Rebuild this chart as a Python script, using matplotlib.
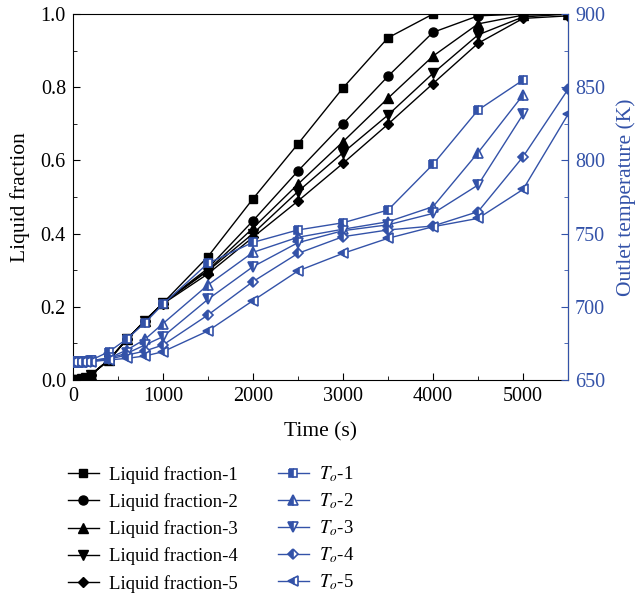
import matplotlib
matplotlib.use("Agg")
import matplotlib.pyplot as plt
from matplotlib.ticker import MultipleLocator, FormatStrFormatter

plt.rcParams['font.family'] = ['Liberation Serif', 'DejaVu Serif']
plt.rcParams['mathtext.fontset'] = 'stix'

# time points (s)
t_lf = [0, 50, 100, 150, 200, 400, 600, 800, 1000, 1500, 2000, 2500, 3000, 3500, 4000, 4500, 5000, 5500]
lf1 = [0, 0.0, 0.002, 0.005, 0.014, 0.055, 0.111, 0.162, 0.21, 0.337, 0.495, 0.645, 0.798, 0.935, 1.0, 1.0, 1.0, 1.0]
lf2 = [0, 0.0, 0.002, 0.005, 0.014, 0.055, 0.111, 0.162, 0.21, 0.305, 0.435, 0.571, 0.70, 0.83, 0.95, 0.995, 1.0, 1.0]
lf3 = [0, 0.0, 0.002, 0.005, 0.014, 0.055, 0.111, 0.162, 0.21, 0.30, 0.415, 0.535, 0.651, 0.77, 0.885, 0.973, 0.997, 1.0]
lf4 = [0, 0.0, 0.002, 0.005, 0.014, 0.055, 0.111, 0.162, 0.21, 0.298, 0.40, 0.515, 0.621, 0.724, 0.838, 0.943, 0.992, 1.0]
lf5 = [0, 0.0, 0.002, 0.005, 0.014, 0.055, 0.111, 0.162, 0.208, 0.29, 0.39, 0.489, 0.592, 0.699, 0.81, 0.92, 0.988, 0.995]

t_T13 = [0, 50, 100, 150, 200, 400, 600, 800, 1000, 1500, 2000, 2500, 3000, 3500, 4000, 4500, 5000]
t_T45 = t_T13 + [5500]
T1 = [662.5, 662.5, 662.5, 662.8, 663.5, 669.3, 678.0, 689.0, 701.7, 729.7, 744.0, 752.5, 757.4, 766.1, 797.3, 834.4, 854.9]
T2 = [662.5, 662.5, 662.5, 662.8, 663.2, 665.0, 670.5, 677.8, 688.5, 714.9, 737.2, 747.5, 753.0, 758.1, 768.4, 805.3, 844.7]
T3 = [662.5, 662.5, 662.5, 662.6, 663.0, 665.0, 668.2, 673.9, 679.6, 705.1, 727.4, 743.8, 752.0, 756.0, 763.8, 783.2, 831.5]
T4 = [662.5, 662.5, 662.5, 662.5, 662.8, 664.3, 667.0, 669.8, 673.9, 694.4, 717.2, 736.5, 747.9, 752.5, 755.2, 765.0, 802.5, 848.6]
T5 = [662.5, 662.5, 662.5, 662.5, 662.6, 663.7, 664.8, 666.4, 669.3, 683.5, 704.2, 724.5, 736.5, 746.8, 754.7, 760.4, 780.2, 831.5]

lf_labels = ['Liquid fraction-1', 'Liquid fraction-2', 'Liquid fraction-3', 'Liquid fraction-4', 'Liquid fraction-5']
T_labels = ['$T_o$-1', '$T_o$-2', '$T_o$-3', '$T_o$-4', '$T_o$-5']

blue = '#3352A8'
tick_fs = 14.5
lab_fs = 15.5
leg_fs = 13.5

fig = plt.figure(figsize=(6.39, 5.99), dpi=100)
ax = fig.add_axes([0.114, 0.3656, 0.775, 0.611])
ax2 = ax.twinx()

lf_markers = ['s', 'o', '^', 'v', 'D']
lf_sizes = [6, 6.5, 7, 7, 5.5]
handles_lf = []
for y, m, ms, lab in zip([lf1, lf2, lf3, lf4, lf5], lf_markers, lf_sizes, lf_labels):
    h, = ax.plot(t_lf, y, color='black', marker=m, markersize=ms, linewidth=1, label=lab)
    handles_lf.append(h)

T_markers = ['s', '^', 'v', 'D', '<']
T_sizes = [6, 7, 7, 5.5, 7]
handles_T = []
for tt, y, m, ms, lab in zip([t_T13, t_T13, t_T13, t_T45, t_T45], [T1, T2, T3, T4, T5], T_markers, T_sizes, T_labels):
    h, = ax2.plot(tt, y, color=blue, marker=m, markersize=ms, linewidth=1,
                  fillstyle='left', markerfacecolor=blue, markerfacecoloralt='white',
                  markeredgecolor=blue, markeredgewidth=1.2, label=lab)
    handles_T.append(h)

ax.set_xlim(0, 5500)
ax.set_ylim(0, 1.0)
ax2.set_ylim(650, 900)

ax.xaxis.set_major_locator(MultipleLocator(1000))
ax.xaxis.set_minor_locator(MultipleLocator(500))
ax.yaxis.set_major_locator(MultipleLocator(0.2))
ax.yaxis.set_minor_locator(MultipleLocator(0.1))
ax2.yaxis.set_major_locator(MultipleLocator(50))
ax2.yaxis.set_minor_locator(MultipleLocator(25))

ax.tick_params(axis='both', which='both', direction='in', labelsize=tick_fs, top=False, right=False, pad=5)
ax.tick_params(which='major', length=5)
ax.tick_params(which='minor', length=3)
ax2.tick_params(axis='y', which='both', direction='in', colors=blue, labelsize=tick_fs, pad=5)
ax2.tick_params(which='major', length=5)
ax2.tick_params(which='minor', length=3)
ax.yaxis.set_major_formatter(FormatStrFormatter('%.1f'))

ax2.spines['right'].set_color(blue)
for s in ['left', 'bottom', 'top']:
    ax2.spines[s].set_visible(False)

ax.set_xlabel('Time (s)', fontsize=lab_fs, labelpad=12)
ax.set_ylabel('Liquid fraction', fontsize=lab_fs, labelpad=8)
ax2.set_ylabel('Outlet temperature (K)', fontsize=lab_fs, color=blue, labelpad=8)

leg_kw = dict(loc='upper left', frameon=False, fontsize=leg_fs, handlelength=1.65,
              handletextpad=0.55, borderaxespad=0)
leg1 = fig.legend(handles_lf, lf_labels, bbox_to_anchor=(0.094, 0.235), labelspacing=0.5, **leg_kw)
leg2 = fig.legend(handles_T, T_labels, bbox_to_anchor=(0.4233, 0.237), labelspacing=0.39, **leg_kw)

fig.savefig('out.png', dpi=100)
